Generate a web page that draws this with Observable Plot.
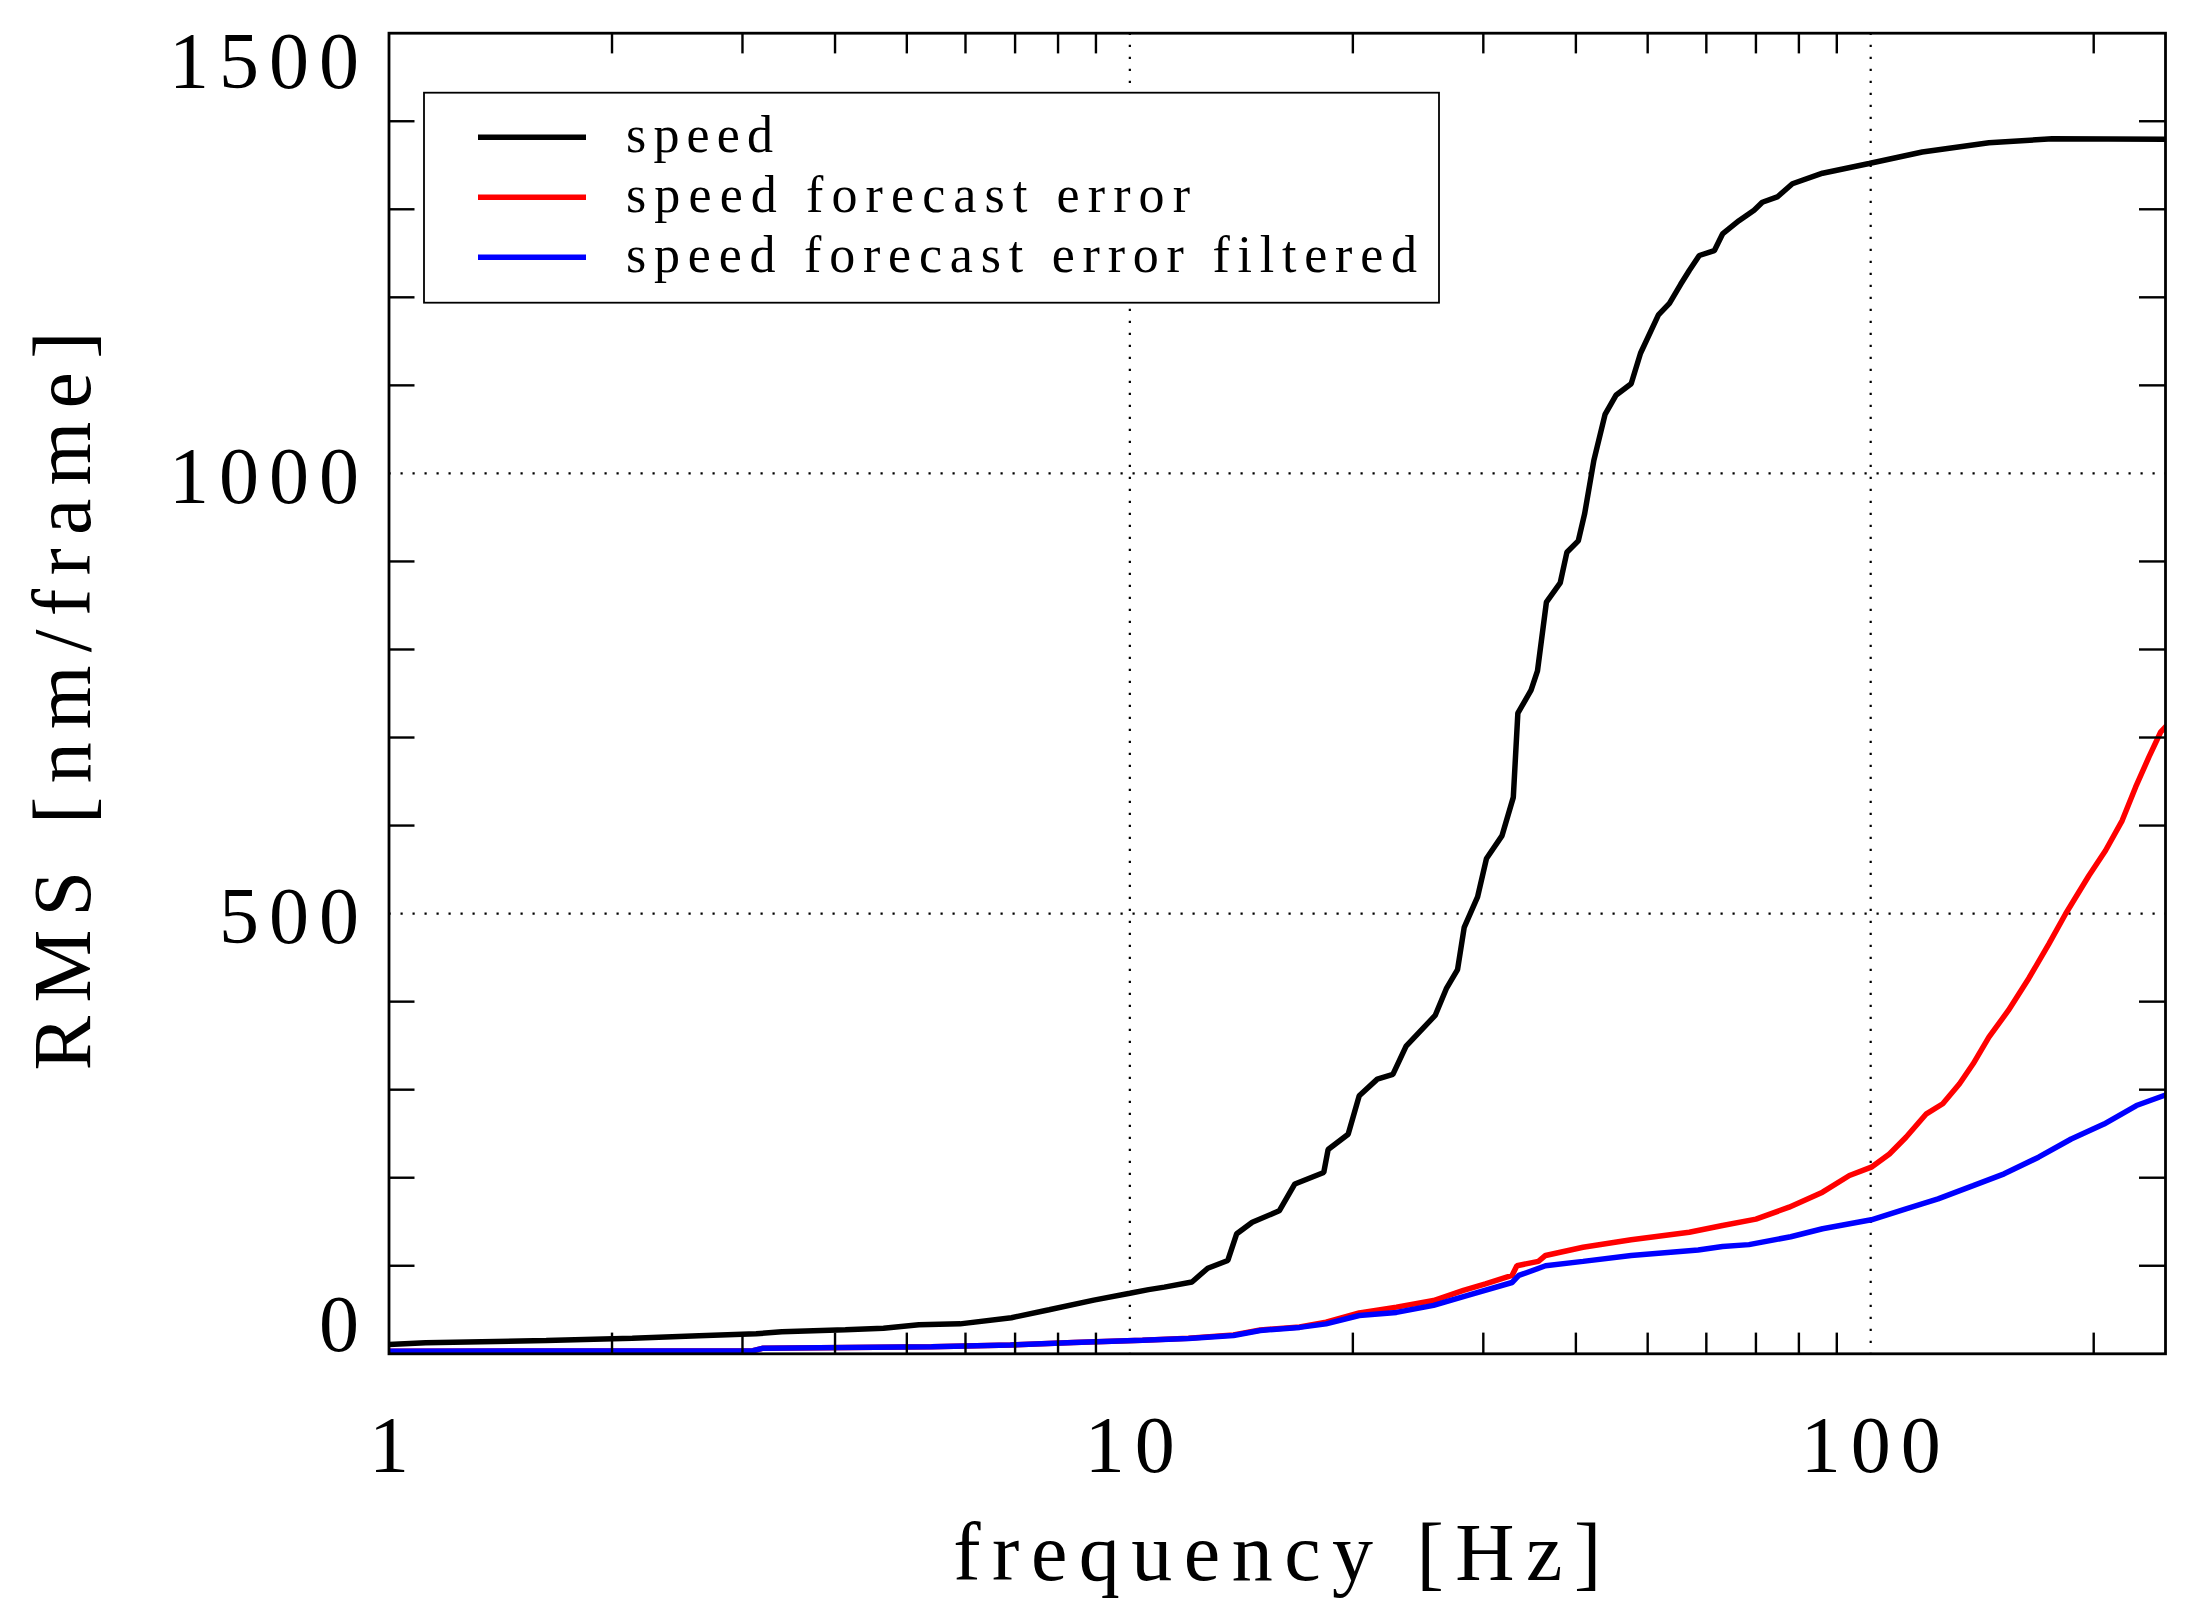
<!DOCTYPE html>
<html>
<head>
<meta charset="utf-8">
<script src="https://cdn.jsdelivr.net/npm/d3@7"></script>
<script src="https://cdn.jsdelivr.net/npm/@observablehq/plot@0.6"></script>
<style>
html, body { margin: 0; padding: 0; background: #ffffff; }
#chart svg { display: block; }
</style>
</head>
<body>
<div id="chart"></div>
<script>
// ---------- data ----------
const seriesNames = ["speed", "speed forecast error", "speed forecast error filtered"];
const seriesColors = ["#000000", "#ff0000", "#0000ff"];

const speedFreq = [1,1.12,1.63,2.13,2.62,3.13,3.39,4.13,4.65,5.19,5.9,6.92,7.78,8.94,10,10.6,11.13,12.13,12.74,13.56,13.94,14.63,15.91,16.7,18.27,18.52,19.71,20.4,21.58,22.65,23.6,25.83,26.74,27.69,28.27,29.47,30.3,31.8,32.93,33.4,34.8,35.5,36.5,38.1,38.9,40.3,41.1,42.3,43.8,45.3,47.5,48.9,51.7,53.5,55.4,56.9,58.7,61.5,63.1,66.4,69.6,71.4,74.8,78.4,86.1,99.5,117.4,144.4,175.8,250];
const speedRms = [10.5,12.5,15,17.7,20.4,22.7,25,27.3,29,33,34,41,50,61,68.8,72.9,75.7,81.6,97.2,106,136.4,149.5,162.4,192.9,206,232,249.4,293,312,317.3,349.5,384.3,414.7,436.4,484.3,519,562.6,588.6,632,727.7,753.9,775.7,853.9,875.6,910.4,923.4,953.9,1014.8,1067,1088.7,1101.8,1136.5,1180,1193.1,1214.8,1230.5,1247.5,1253,1272,1287,1299,1308,1314,1329,1341,1352,1365,1375.5,1380,1379.5];

const errFreq = [1,3.1,3.2,5.4,6.9,8.4,10.4,12,13.8,15,16.95,18.4,20.4,22.9,25.7,28.2,30.2,32.8,33.3,35.6,36.4,40.9,47.5,56.9,63.1,70,77.6,86.1,93.6,100.2,106,111.6,118.9,125.1,131.8,137.5,144.4,153.4,163.5,174,183.3,197,207.5,218.5,227.8,237.4,246.2,250];
const errRms = [3,3.5,6.4,8,10,12.8,15.5,17.6,21.5,27,30.5,36,46.5,53,60.5,72,79.5,89,100,105,111.7,121,129.5,138,145.7,153,166.5,183.6,202.5,212,227,246,272.6,284,306.7,329.4,359.6,390,426.6,465.7,499.8,543,571.7,605.7,643.6,677.7,706,712];

const filtFreq = [1,3.1,3.2,5.4,6.9,8.4,10.4,12,13.8,15,16.95,18.4,20.4,22.9,25.7,28.2,32.8,33.5,36.4,40.9,47.5,58.5,63.1,68.5,78,86.1,100.2,111.6,123.3,137.5,151.4,168.5,186.5,206.5,228.4,250];
const filtRms = [3,3.5,6.4,8,10,12.8,15.5,17.4,20.8,26.5,30,34,43.5,47,55,65,81,89,100,105,111.7,118,121.9,124,133,142,152.2,164.7,176,191,204.4,223.3,244,261,282,294];

const xDomain = [1, 250];
const yDomain = [0, 1500];
const xTickLabels = [1, 10, 100];
const xGrid = [10, 100];
const xMinorTicks = [2,3,4,5,6,7,8,9,20,30,40,50,60,70,80,90,200];
const yTickLabelsMid = [500, 1000];
const yTickLabelBottom = [0];
const yTickLabelTop = [1500];
const yGrid = [500, 1000];
const yMinorTicks = [100,200,300,400,600,700,800,900,1100,1200,1300,1400];
const xTitle = "frequency [Hz]";
const yTitle = "RMS [nm/frame]";

// ---------- layout ----------
const W = 2196, H = 1624;
const mLeft = 388.5, mRight = 31, mTop = 32.7, mBottom = 270.7;
const plotW = W - mLeft - mRight;
const plotH = H - mTop - mBottom;
const FONT = "Liberation Serif";

const toRows = (fs, vs, name) => fs.map((f, i) => ({f, v: vs[i], series: name}));
const rows = [
  toRows(speedFreq, speedRms, seriesNames[0]),
  toRows(errFreq, errRms, seriesNames[1]),
  toRows(filtFreq, filtRms, seriesNames[2])
];

// inward tick lengths (pixels -> data units)
const xTickPx = 20.7, yTickPx = 26;
const yTickUnits = xTickPx * (yDomain[1] - yDomain[0]) / plotH;
const xTickFactor = Math.pow(xDomain[1] / xDomain[0], yTickPx / plotW);

const gridStyle = {stroke: "#000", strokeWidth: 2.2, strokeDasharray: "2.2,9.8"};
const tickStyle = {stroke: "#000", strokeWidth: 2.4};
const fmt = d => String(d);
const yAxisOpts = {anchor: "left", tickSize: 0, tickPadding: 20, fontSize: 80, fontFamily: FONT, label: null, tickFormat: fmt};

const chart = Plot.plot({
  width: W,
  height: H,
  marginLeft: mLeft,
  marginRight: mRight,
  marginTop: mTop,
  marginBottom: mBottom,
  style: {fontFamily: FONT, background: "#ffffff", color: "#000"},
  x: {type: "log", domain: xDomain, axis: null},
  y: {type: "linear", domain: yDomain, axis: null},
  marks: [
    Plot.ruleX(xGrid, gridStyle),
    Plot.ruleY(yGrid, gridStyle),
    ...rows.map((r, i) => Plot.line(r, {x: "f", y: "v", stroke: seriesColors[i], strokeWidth: 5.5, strokeLinejoin: "miter", clip: true})),
    Plot.ruleX(xMinorTicks, {...tickStyle, y1: yDomain[0], y2: yDomain[0] + yTickUnits}),
    Plot.ruleX(xMinorTicks, {...tickStyle, y1: yDomain[1] - yTickUnits, y2: yDomain[1]}),
    Plot.ruleY(yMinorTicks, {...tickStyle, x1: xDomain[0], x2: xDomain[0] * xTickFactor}),
    Plot.ruleY(yMinorTicks, {...tickStyle, x1: xDomain[1] / xTickFactor, x2: xDomain[1]}),
    Plot.frame({stroke: "#000", strokeWidth: 2.8}),
    Plot.axisY(yTickLabelsMid, {...yAxisOpts, dy: 4}),
    Plot.axisY(yTickLabelBottom, {...yAxisOpts, dy: -28}),
    Plot.axisY(yTickLabelTop, {...yAxisOpts, dy: 29}),
    Plot.axisX(xTickLabels, {anchor: "bottom", tickSize: 0, tickPadding: 61.6, fontSize: 80, fontFamily: FONT, dx: 5, label: null, tickFormat: fmt}),
    Plot.text([xTitle], {text: d => d, frameAnchor: "bottom", textAnchor: "middle", lineAnchor: "middle", dy: 200, fontSize: 82, fontFamily: FONT, fill: "#000"}),
    Plot.text([yTitle], {text: d => d, frameAnchor: "left", textAnchor: "middle", lineAnchor: "middle", rotate: -90, dx: -325, dy: 7.5, fontSize: 82, fontFamily: FONT, fill: "#000"})
  ]
});

document.getElementById("chart").appendChild(chart);

const svg = d3.select(chart);
svg.selectAll('g[aria-label="y-axis tick label"], g[aria-label="x-axis tick label"]')
  .style("letter-spacing", "10px");
svg.selectAll("text").filter(function () { return this.textContent === xTitle; })
  .attr("textLength", 648).attr("lengthAdjust", "spacing");
svg.selectAll("text").filter(function () { return this.textContent === yTitle; })
  .attr("textLength", 739).attr("lengthAdjust", "spacing");

// ---------- legend (inside plot frame, top-left) ----------
const lg = svg.append("g").attr("class", "legend").attr("text-anchor", "start");
lg.append("rect")
  .attr("x", 424).attr("y", 92.7).attr("width", 1015).attr("height", 210)
  .attr("fill", "#ffffff").attr("stroke", "#000").attr("stroke-width", 1.8);
const legendWidths = [147, 564, 791];
seriesNames.forEach((name, i) => {
  const base = 151.7 + i * 60;
  lg.append("line")
    .attr("x1", 478).attr("x2", 586)
    .attr("y1", base - 14.5).attr("y2", base - 14.5)
    .attr("stroke", seriesColors[i]).attr("stroke-width", 5.5);
  lg.append("text")
    .attr("x", 626).attr("y", base)
    .attr("text-anchor", "start")
    .attr("font-family", FONT).attr("font-size", 52).attr("fill", "#000")
    .attr("textLength", legendWidths[i]).attr("lengthAdjust", "spacing")
    .text(name);
});
</script>
</body>
</html>
